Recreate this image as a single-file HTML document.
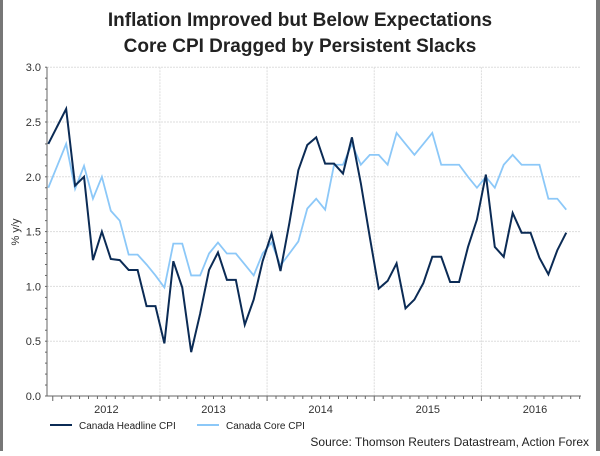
<!DOCTYPE html>
<html><head><meta charset="utf-8"><style>
body{margin:0;background:#fff;}
svg text{font-family:"Liberation Sans",Arial,sans-serif;}
</style></head><body>
<svg width="600" height="451" xmlns="http://www.w3.org/2000/svg">
<rect x="0" y="0" width="600" height="451" fill="#fff"/>
<rect x="0" y="0" width="3" height="451" fill="#777"/>
<rect x="596" y="0" width="4" height="451" fill="#777"/>
<text x="300" y="26" text-anchor="middle" font-size="19" font-weight="bold" fill="#222">Inflation Improved but Below Expectations</text>
<text x="300" y="52" text-anchor="middle" font-size="19" font-weight="bold" fill="#222">Core CPI Dragged by Persistent Slacks</text>
<text transform="translate(19,232) rotate(-90)" text-anchor="middle" font-size="11" fill="#333">% y/y</text>
<g id="grid"></g>
<g id="axes"></g>
<g id="series"></g>
<g>
<line x1="50" y1="425" x2="72" y2="425" stroke="#0b2b55" stroke-width="2"/>
<text x="79" y="429" font-size="10" fill="#222">Canada Headline CPI</text>
<line x1="197" y1="425" x2="219" y2="425" stroke="#8cc8f8" stroke-width="2"/>
<text x="226" y="429" font-size="10" fill="#222">Canada Core CPI</text>
</g>
<text x="589" y="446" text-anchor="end" font-size="12" fill="#222">Source: Thomson Reuters Datastream, Action Forex</text>
</svg>
<script>
const headline=[2.30,2.46,2.62,1.92,2.00,1.24,1.50,1.25,1.24,1.15,1.15,0.82,0.82,0.48,1.23,0.99,0.40,0.75,1.15,1.31,1.06,1.06,0.65,0.88,1.23,1.48,1.14,1.58,2.06,2.29,2.36,2.12,2.12,2.03,2.36,1.94,1.45,0.98,1.05,1.21,0.80,0.88,1.03,1.27,1.27,1.04,1.04,1.36,1.61,2.02,1.36,1.27,1.67,1.49,1.49,1.26,1.11,1.33,1.49];
const core=[1.90,2.10,2.30,1.89,2.10,1.80,2.00,1.69,1.60,1.29,1.29,1.20,1.10,0.99,1.39,1.39,1.10,1.10,1.30,1.40,1.30,1.30,1.20,1.10,1.30,1.40,1.19,1.30,1.41,1.71,1.80,1.70,2.11,2.11,2.30,2.11,2.20,2.20,2.11,2.40,2.30,2.20,2.30,2.40,2.11,2.11,2.11,2.00,1.90,2.00,1.90,2.11,2.20,2.11,2.11,2.11,1.80,1.80,1.70];
const yTicks=[0,0.5,1,1.5,2,2.5,3];
const yTickLabels=["0.0","0.5","1.0","1.5","2.0","2.5","3.0"];
const years=["2012","2013","2014","2015","2016"];
const yearStartIdx=[1,13,25,37,49];
const NS="http://www.w3.org/2000/svg";
const X0=48.3,DX=8.93,Y0=396,YS=109.6,PL=47,PR=581;
function xs(i){return X0+i*DX;}
function ys(v){return Y0-v*YS;}
function mk(tag,attrs,parent){const e=document.createElementNS(NS,tag);for(const k in attrs)e.setAttribute(k,attrs[k]);parent.appendChild(e);return e;}
const grid=document.getElementById('grid'),axes=document.getElementById('axes'),ser=document.getElementById('series');
yTicks.forEach((v,i)=>{
 if(v>0){const g=mk('line',{x1:PL,x2:PR,y1:ys(v),y2:ys(v),stroke:'#ddd','stroke-width':1,'stroke-dasharray':'2,1'},grid);
 
 }
 const t=mk('text',{x:PL-6,y:ys(v)+4,'text-anchor':'end','font-size':11,fill:'#333'},axes);
 t.textContent=yTickLabels[i];
 
 
});
for(let v=0;v<=3.001;v+=0.1){const tk=mk('line',{x1:PL-2,x2:PL,y1:ys(v),y2:ys(v),stroke:'#666'},axes);
 
 }
years.forEach((y,i)=>{
 const xb=xs(yearStartIdx[i])-DX/2;
 if(i>0){const g=mk('line',{x1:xb,x2:xb,y1:ys(3),y2:Y0,stroke:'#ddd','stroke-dasharray':'2,1'},grid);
 
 }
 const t=mk('text',{x:xb+6*DX,y:413,'text-anchor':'middle','font-size':11,fill:'#333'},axes);
 t.textContent=y;
 
 
});
for(let i=0;i<headline.length+2;i++){const x=xs(i)-DX/2;if(x<PL||x>PR)continue;
 const tk=mk('line',{x1:x,x2:x,y1:Y0,y2:Y0+((i-1)%12===0?5:3),stroke:'#666'},axes);
 
 }
const ya=mk('line',{x1:PL,x2:PL,y1:ys(3),y2:Y0,stroke:'#666'},axes);


const xa=mk('line',{x1:PL,x2:PR,y1:Y0,y2:Y0,stroke:'#666'},axes);


const pc=mk('polyline',{points:core.map((v,i)=>xs(i)+','+ys(v)).join(' '),fill:'none',stroke:'#8cc8f8','stroke-width':1.8},ser);


const ph=mk('polyline',{points:headline.map((v,i)=>xs(i)+','+ys(v)).join(' '),fill:'none',stroke:'#0b2b55','stroke-width':2},ser);


</script>
</body></html>
